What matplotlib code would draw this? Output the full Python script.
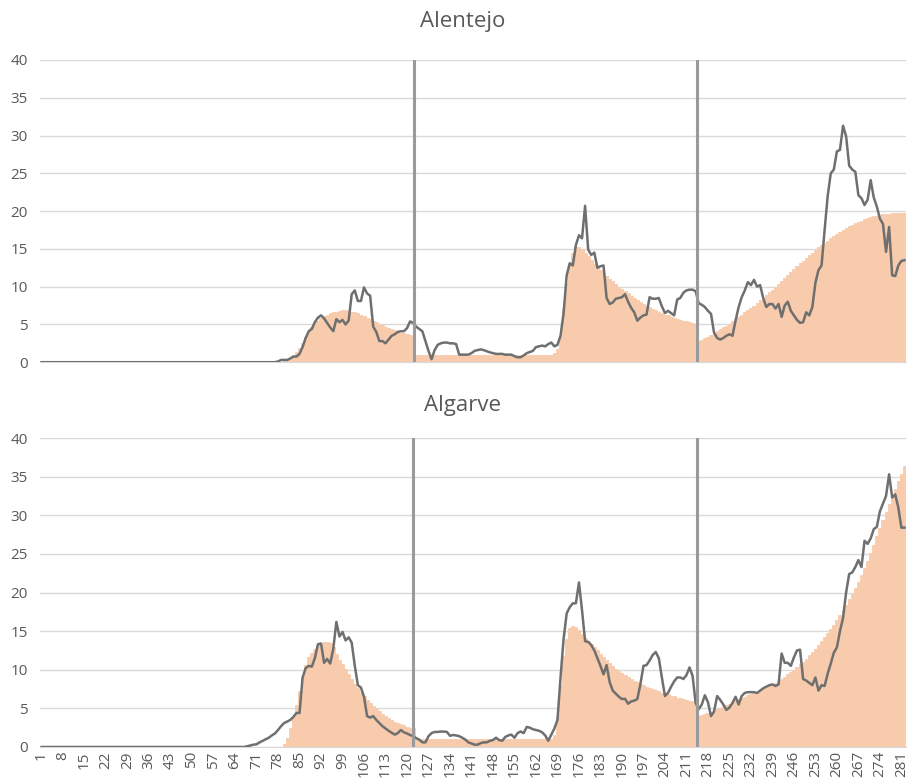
import matplotlib
matplotlib.use("Agg")
import matplotlib.pyplot as plt

plt.rcParams['font.family'] = ['Open Sans', 'DejaVu Sans']

days = list(range(1, 283))

# Alentejo - observed (line), days 1..282
alentejo_line = [0] * 77 + [
    0.1, 0.3, 0.3, 0.3, 0.5, 0.75, 0.75, 1.1, 2.0, 3.2,        # 78
    4.1, 4.4, 5.3, 5.9, 6.2, 5.8, 5.2, 4.6, 4.1, 5.7,          # 88
    5.3, 5.6, 5.0, 5.5, 9.0, 9.5, 8.1, 8.1, 9.9, 9.1,          # 98
    8.8, 4.7, 4.0, 2.8, 2.8, 2.5, 3.0, 3.5, 3.7, 4.0,          # 108
    4.1, 4.1, 4.5, 5.4, 5.2, 4.7, 4.4, 4.1, 2.8, 1.5,          # 118
    0.4, 1.6, 2.3, 2.5, 2.6, 2.6, 2.5, 2.5, 2.4, 1.0,          # 128
    1.0, 1.0, 1.0, 1.2, 1.5, 1.6, 1.7, 1.6, 1.45, 1.3,         # 138
    1.2, 1.1, 1.1, 1.1, 1.0, 1.0, 1.0, 0.8, 0.65, 0.65,        # 148
    0.9, 1.2, 1.35, 1.5, 2.0, 2.1, 2.2, 2.1, 2.4, 2.6,         # 158
    2.1, 2.3, 3.5, 6.5, 11.5, 13.1, 12.8, 15.5, 16.8, 16.4,    # 168
    20.7, 14.9, 14.2, 14.5, 12.5, 12.7, 12.8, 8.5, 7.7, 7.9,   # 178
    8.4, 8.5, 8.6, 9.0, 8.0, 7.2, 6.6, 5.5, 5.9, 6.2,          # 188
    6.3, 8.6, 8.4, 8.4, 8.5, 7.4, 6.5, 6.8, 6.5, 6.2,          # 198
    8.3, 8.5, 9.2, 9.5, 9.6, 9.6, 9.4, 7.8, 7.6, 7.3,          # 208
    6.8, 6.4, 3.9, 3.2, 3.0, 3.2, 3.5, 3.7, 3.5, 5.5,          # 218
    7.3, 8.6, 9.5, 10.6, 10.2, 10.9, 10.0, 10.2, 8.5, 7.3,     # 228
    7.7, 7.7, 7.1, 7.7, 6.0, 7.5, 8.0, 6.8, 6.2, 5.6,          # 238
    5.2, 5.3, 6.6, 6.2, 7.3, 10.5, 12.2, 12.8, 17.5, 22.0,     # 248
    25.0, 25.5, 27.9, 28.1, 31.3, 29.9, 26.0, 25.5, 25.2, 22.1,  # 258
    21.7, 20.8, 21.5, 24.1, 21.8, 20.6, 19.0, 18.3, 14.6, 17.9,  # 268
    11.5, 11.4, 12.8, 13.4, 13.5,                              # 278
]

# Alentejo - fitted (bars)
alentejo_bars = [0] * 79 + [
    0.2, 0.4, 0.6, 0.9, 1.3, 1.9, 2.6, 3.4, 4.0, 4.6,          # 80
    5.1, 5.5, 5.8, 6.1, 6.3, 6.5, 6.6, 6.7, 6.8, 6.85,         # 90
    6.85, 6.8, 6.7, 6.6, 6.5, 6.3, 6.1, 5.9, 5.7, 5.5,         # 100
    5.3, 5.1, 4.9, 4.7, 4.5, 4.4, 4.2, 4.1, 3.9, 3.8,          # 110
    3.7, 3.6, 3.5, 1.0, 1.0, 1.0, 1.0, 1.0, 1.0, 1.0,          # 120
    1.0, 1.0, 1.0, 1.0, 1.0, 1.0, 1.0, 1.0, 1.0, 1.0,          # 130
    1.0, 1.0, 1.0, 1.0, 1.0, 1.0, 1.0, 1.0, 1.0, 1.0,          # 140
    1.0, 1.0, 1.0, 1.0, 1.0, 1.0, 1.0, 1.0, 1.0, 1.0,          # 150
    1.0, 1.0, 1.0, 1.0, 1.0, 1.0, 1.0, 1.0, 1.2, 1.8,          # 160
    3.5, 7.0, 10.5, 13.0, 14.5, 15.2, 15.3, 15.0, 14.5, 14.0,  # 170
    13.5, 13.0, 12.6, 12.2, 11.8, 11.4, 11.0, 10.7, 10.3, 10.0,  # 180
    9.7, 9.4, 9.1, 8.8, 8.5, 8.2, 8.0, 7.7, 7.5, 7.3,          # 190
    7.1, 6.9, 6.7, 6.5, 6.3, 6.2, 6.0, 5.9, 5.7, 5.6,          # 200
    5.5, 5.4, 5.3, 5.2, 5.1, 2.8, 3.0, 3.2, 3.4, 3.6,          # 210
    3.85, 4.1, 4.35, 4.6, 4.85, 5.1, 5.4, 5.7, 6.0, 6.3,       # 220
    6.6, 6.9, 7.2, 7.5, 7.85, 8.2, 8.55, 8.9, 9.25, 9.6,       # 230
    9.95, 10.3, 10.7, 11.1, 11.5, 11.9, 12.3, 12.7, 13.1, 13.45,  # 240
    13.8, 14.15, 14.5, 14.85, 15.2, 15.5, 15.8, 16.1, 16.4, 16.7,  # 250
    17.0, 17.25, 17.5, 17.75, 18.0, 18.2, 18.4, 18.6, 18.75, 18.9,  # 260
    19.05, 19.2, 19.3, 19.4, 19.5, 19.55, 19.6, 19.65, 19.7, 19.7,  # 270
    19.75, 19.75, 19.75,                                       # 280
]

# Algarve - observed (line)
algarve_line = [0] * 67 + [
    0.1, 0.2, 0.3, 0.35, 0.6, 0.8, 1.0, 1.2, 1.5, 1.75,        # 68
    2.2, 2.7, 3.1, 3.3, 3.5, 3.9, 4.4, 4.4, 9.0, 10.2,         # 78
    10.5, 10.4, 11.5, 13.3, 13.4, 10.9, 11.4, 10.8, 12.7, 16.2,  # 88
    14.3, 14.9, 13.8, 14.2, 13.5, 10.5, 8.0, 7.7, 6.5, 4.0,    # 98
    3.8, 4.0, 3.5, 3.1, 2.7, 2.4, 2.1, 1.85, 1.6, 1.8,         # 108
    2.2, 1.9, 1.75, 1.55, 1.4, 1.15, 0.95, 0.6, 0.6, 1.4,      # 118
    1.8, 1.95, 1.95, 2.0, 2.0, 1.95, 1.45, 1.55, 1.5, 1.4,     # 128
    1.2, 0.95, 0.6, 0.45, 0.3, 0.3, 0.5, 0.6, 0.6, 0.8,        # 138
    0.9, 1.2, 0.9, 0.8, 1.3, 1.5, 1.6, 1.2, 1.8, 2.0,          # 148
    1.8, 2.6, 2.5, 2.3, 2.2, 2.1, 1.9, 1.5, 0.8, 1.6,          # 158
    2.4, 3.5, 9.0, 14.0, 17.3, 18.1, 18.6, 18.6, 21.3, 17.7,   # 168
    13.7, 13.6, 13.2, 12.5, 11.5, 10.5, 9.4, 10.6, 8.4, 7.3,   # 178
    6.9, 6.5, 6.2, 6.25, 5.6, 5.9, 6.0, 6.2, 8.1, 10.5,        # 188
    10.6, 11.2, 11.9, 12.3, 11.5, 9.0, 6.6, 7.0, 7.8, 8.5,     # 198
    9.0, 9.0, 8.8, 9.3, 10.3, 9.2, 5.7, 4.9, 5.5, 6.7,         # 208
    5.8, 4.0, 4.6, 6.6, 6.1, 5.5, 4.8, 5.1, 5.7, 6.5,          # 218
    5.5, 6.6, 7.0, 7.1, 7.1, 7.1, 7.0, 7.3, 7.6, 7.8,          # 228
    8.0, 8.1, 7.9, 8.1, 12.1, 10.9, 10.9, 10.5, 11.6, 12.5,    # 238
    12.6, 8.8, 8.6, 8.3, 8.0, 9.0, 7.3, 8.0, 7.9, 9.5,         # 248
    10.8, 12.2, 12.9, 15.0, 16.7, 20.0, 22.4, 22.6, 23.3, 24.2,  # 258
    23.3, 26.7, 26.3, 27.0, 28.2, 28.5, 30.5, 31.5, 32.5, 35.3,  # 268
    32.3, 32.7, 31.0, 28.4, 28.4,                              # 278
]

# Algarve - fitted (bars)
algarve_bars = [0] * 79 + [
    0.4, 1.2, 2.5, 3.9, 5.5, 7.3, 9.0, 10.6, 11.6, 12.2,       # 80
    12.7, 13.2, 13.5, 13.6, 13.6, 13.4, 12.9, 12.1, 11.3, 10.7,  # 90
    10.1, 9.4, 8.8, 8.2, 7.6, 7.1, 6.6, 6.1, 5.7, 5.3,         # 100
    4.95, 4.6, 4.3, 4.0, 3.75, 3.5, 3.3, 3.1, 2.95, 2.8,       # 110
    2.65, 2.5, 2.4, 1.0, 1.0, 1.0, 1.0, 1.0, 1.0, 1.0,         # 120
    1.0, 1.0, 1.0, 1.0, 1.0, 1.0, 1.0, 1.0, 1.0, 1.0,          # 130
    1.0, 1.0, 1.0, 1.0, 1.0, 1.0, 1.0, 1.0, 1.0, 1.0,          # 140
    1.0, 1.0, 1.0, 1.0, 1.0, 1.0, 1.0, 1.0, 1.0, 1.0,          # 150
    1.0, 1.0, 1.0, 1.0, 1.0, 1.0, 1.0, 1.0, 1.5, 4.0,          # 160
    8.0, 11.8, 14.0, 15.4, 15.6, 15.5, 15.1, 14.6, 14.1, 13.7,  # 170
    13.3, 12.9, 12.5, 12.1, 11.7, 11.3, 10.9, 10.5, 10.15, 9.85,  # 180
    9.55, 9.3, 9.05, 8.8, 8.6, 8.4, 8.2, 8.0, 7.8, 7.65,       # 190
    7.5, 7.35, 7.2, 7.05, 6.9, 6.8, 6.65, 6.55, 6.4, 6.3,      # 200
    6.2, 6.1, 6.0, 5.9, 5.8, 4.0, 4.1, 4.25, 4.4, 4.55,        # 210
    4.7, 4.9, 5.05, 5.25, 5.45, 5.6, 5.8, 6.0, 6.15, 6.35,     # 220
    6.5, 6.7, 6.85, 7.0, 7.15, 7.3, 7.5, 7.7, 7.9, 8.1,        # 230
    8.3, 8.55, 8.8, 9.1, 9.4, 9.7, 10.0, 10.35, 10.7, 11.05,   # 240
    11.45, 11.85, 12.3, 12.75, 13.2, 13.7, 14.2, 14.75, 15.3, 15.85,  # 250
    16.45, 17.05, 17.7, 18.4, 19.1, 19.85, 20.6, 21.4, 22.3, 23.2,  # 260
    24.1, 25.1, 26.1, 27.3, 28.4, 29.4, 30.4, 31.4, 32.4, 33.4,  # 270
    34.4, 35.4, 36.4,                                          # 280
]

tick_days = list(range(1, 283, 7))

BAR_COLOR = "#F8CBAD"
LINE_COLOR = "#6F6F6F"
VLINE_COLOR = "#9A9A9A"
GRID_COLOR = "#D9D9D9"
TEXT_COLOR = "#595959"


def draw_panel(ax, line, bars, vlines, show_xlabels):
    # edge in the same colour closes the hairline gaps between bars
    ax.bar(days, bars, width=1.0, color=BAR_COLOR, edgecolor=BAR_COLOR,
           linewidth=0.6, zorder=2)
    ax.plot(days, line, color=LINE_COLOR, linewidth=1.8, zorder=3)
    for v in vlines:
        ax.axvline(v, color=VLINE_COLOR, linewidth=2.2, zorder=4)

    ax.set_xlim(0.5, 282.5)
    ax.set_ylim(0, 40)
    ax.set_yticks(range(0, 41, 5))
    ax.yaxis.grid(True, color=GRID_COLOR, linewidth=1.0, zorder=0)
    ax.set_axisbelow(True)
    for s in ["top", "right", "left"]:
        ax.spines[s].set_visible(False)
    ax.spines["bottom"].set_color(GRID_COLOR)
    ax.tick_params(axis="y", length=0, pad=9, labelsize=11, labelcolor=TEXT_COLOR)
    ax.set_xticks(tick_days)
    if show_xlabels:
        ax.set_xticklabels([str(d) for d in tick_days], rotation=90)
        ax.tick_params(axis="x", length=0, pad=3, labelsize=11, labelcolor=TEXT_COLOR)
    else:
        ax.tick_params(axis="x", length=0, labelbottom=False)


fig = plt.figure(figsize=(9.1, 7.84), dpi=100)

ax1 = fig.add_axes([0.044, 0.538, 0.9516, 0.3855])
draw_panel(ax1, alentejo_line, alentejo_bars, [122.4, 214.3], False)
fig.text(0.508, 0.972, "Alentejo", ha="center", va="center", fontsize=16, color=TEXT_COLOR)

ax2 = fig.add_axes([0.044, 0.0472, 0.9516, 0.3941])
draw_panel(ax2, algarve_line, algarve_bars, [122.0, 214.3], True)
fig.text(0.508, 0.4834, "Algarve", ha="center", va="center", fontsize=16, color=TEXT_COLOR)

fig.savefig("out.png", dpi=100)
